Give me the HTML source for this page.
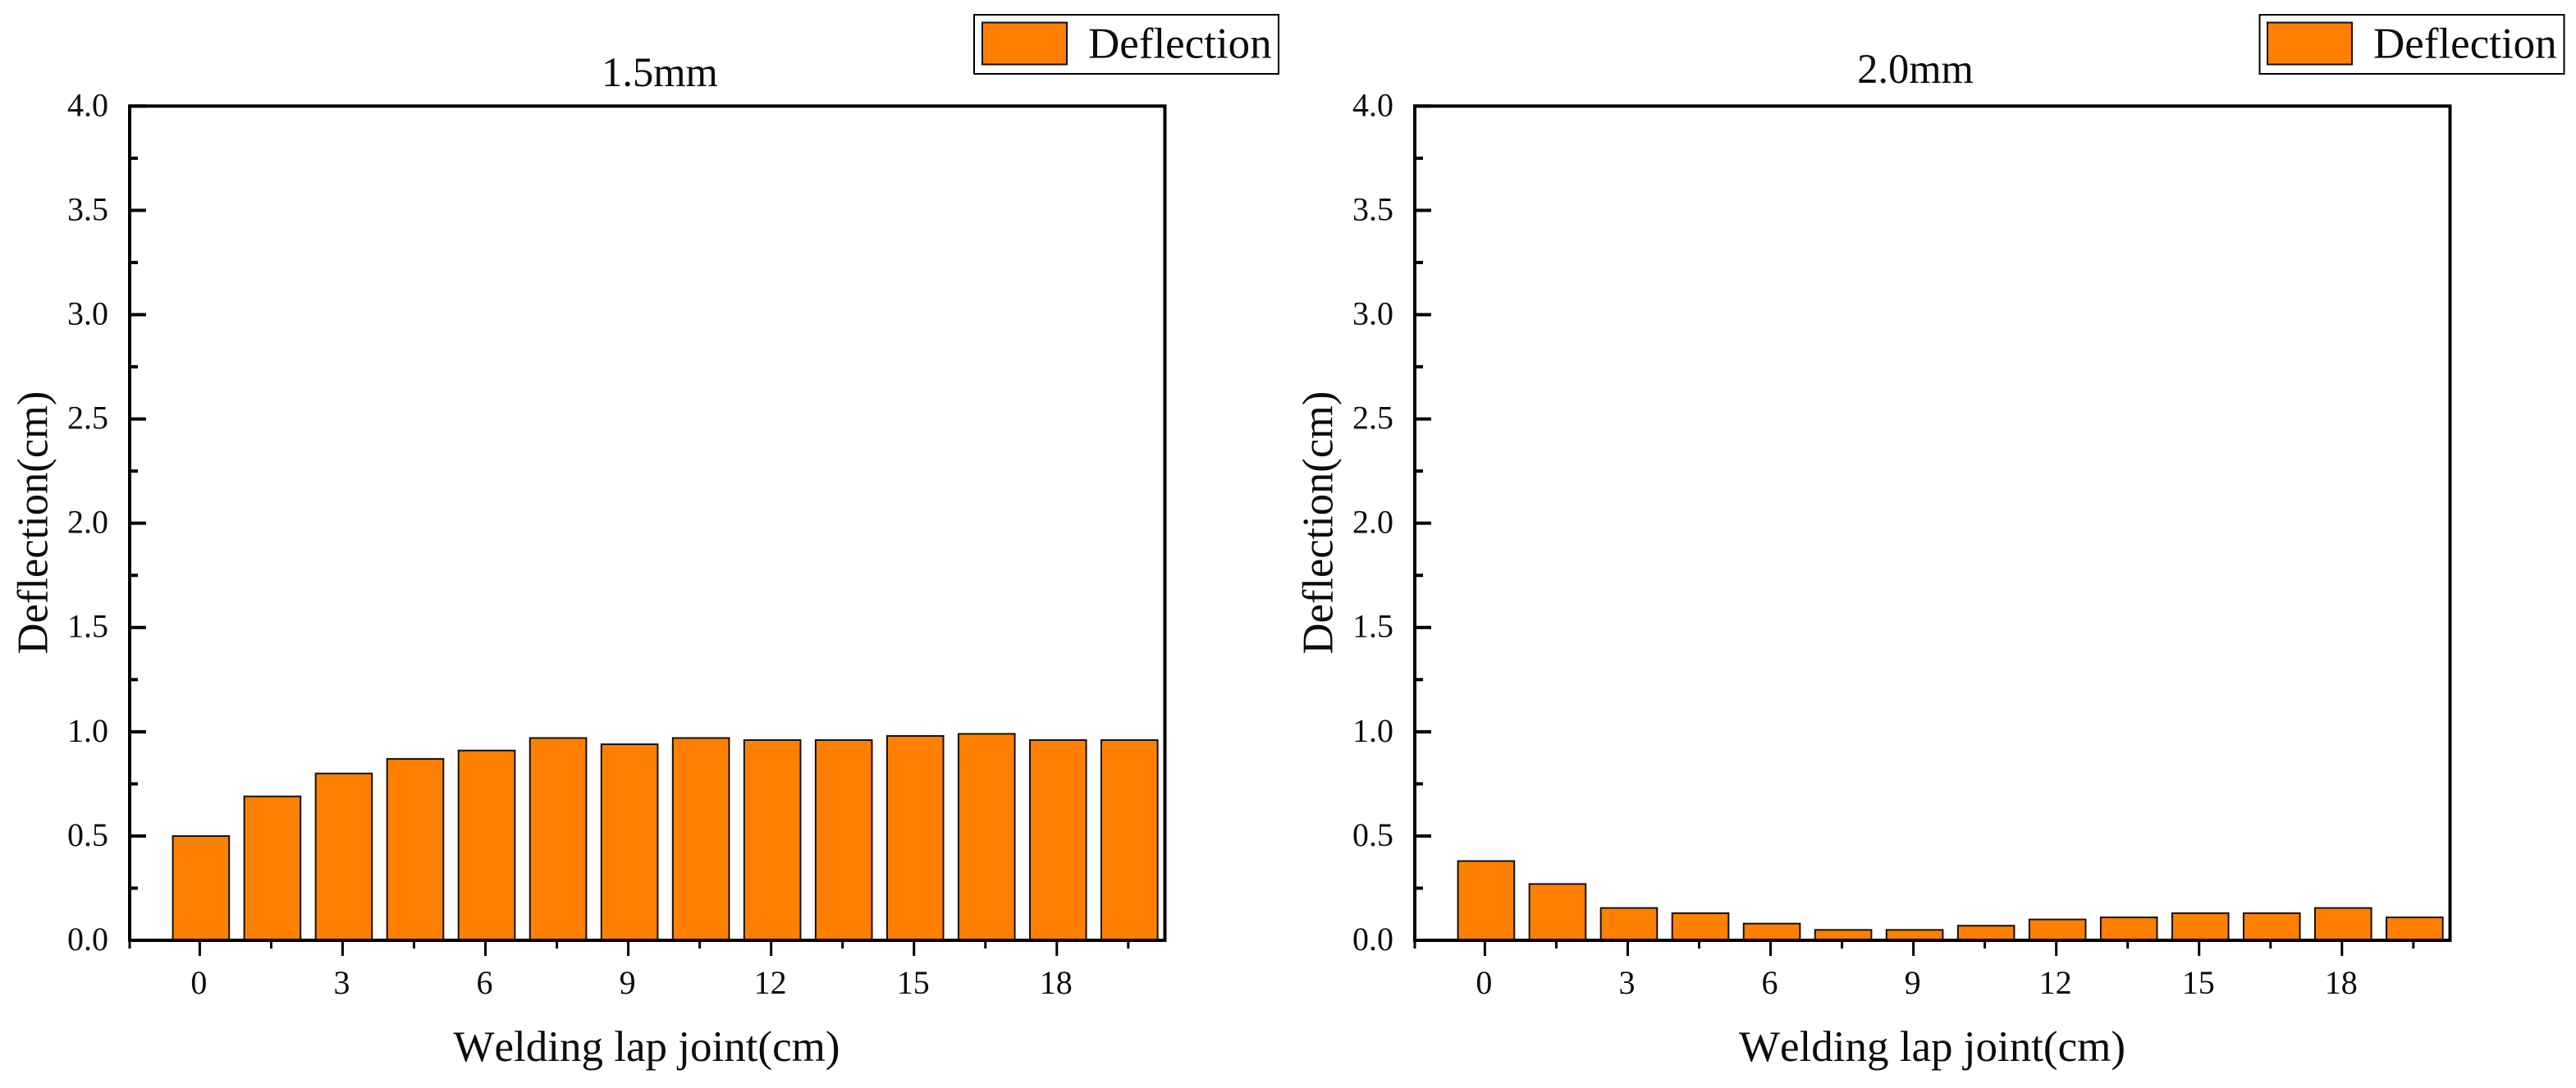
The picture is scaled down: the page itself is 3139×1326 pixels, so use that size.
<!DOCTYPE html>
<html lang="en">
<head>
<meta charset="utf-8">
<title>Deflection along welding lap joint</title>
<style>
  html, body { margin: 0; padding: 0; background: #fff; }
  svg { display: block; }
  text { font-family: "Liberation Serif", "Times New Roman", serif; fill: #0c0c0c; font-kerning: none; font-variant-ligatures: common-ligatures; }
</style>
</head>
<body>
<svg id="chart" xmlns="http://www.w3.org/2000/svg" width="3139" height="1326" viewBox="0 0 3139 1326">
  <rect x="0" y="0" width="3139" height="1326" fill="#fff"/>

  <g id="panel-a">
    <text x="804" y="105" font-size="50.5" text-anchor="middle">1.5mm</text>
    <text x="788" y="1293" font-size="53" text-anchor="middle">Welding lap joint(cm)</text>
    <text transform="translate(57.5,637) rotate(-90)" font-size="52.5" text-anchor="middle">Deflection(cm)</text>
    <g>
      <rect x="1187" y="18" width="371" height="72" fill="#fff" stroke="#000" stroke-width="2"/>
      <rect x="1197" y="27.5" width="103" height="51" fill="#ff8000" stroke="#111" stroke-width="2"/>
      <text x="1326" y="70.5" font-size="53">Deflection</text>
    </g>
  </g>

  <g id="panel-b">
    <text x="2334" y="101" font-size="50.5" text-anchor="middle">2.0mm</text>
    <text x="2354.5" y="1293" font-size="53" text-anchor="middle">Welding lap joint(cm)</text>
    <text transform="translate(1623.5,637) rotate(-90)" font-size="52.5" text-anchor="middle">Deflection(cm)</text>
    <g>
      <rect x="2753.5" y="18" width="371" height="72" fill="#fff" stroke="#000" stroke-width="2"/>
      <rect x="2763" y="27.5" width="103" height="51" fill="#ff8000" stroke="#111" stroke-width="2"/>
      <text x="2892" y="70.5" font-size="53">Deflection</text>
    </g>
  </g>
</svg>

<script>
// Chart data
const joints = [0, 1.5, 3, 4.5, 6, 7.5, 9, 10.5, 12, 13.5, 15, 16.5, 18, 19.5];
const deflection15 = [0.50, 0.69, 0.80, 0.87, 0.91, 0.97, 0.94, 0.97, 0.96, 0.96, 0.98, 0.99, 0.96, 0.96];
const deflection20 = [0.38, 0.27, 0.155, 0.13, 0.08, 0.05, 0.05, 0.07, 0.10, 0.11, 0.13, 0.13, 0.155, 0.11];
const xTickLabels = ['0', '3', '6', '9', '12', '15', '18'];
const xMinorTicks = [1.5, 4.5, 7.5, 10.5, 13.5, 16.5, 19.5];
const yTickLabels = ['0.0', '0.5', '1.0', '1.5', '2.0', '2.5', '3.0', '3.5', '4.0'];
const yMinorTicks = [0.25, 0.75, 1.25, 1.75, 2.25, 2.75, 3.25, 3.75];
const xDomain = [-1.472, 20.27];
const yDomain = [0, 4];

const SVG_NS = 'http://www.w3.org/2000/svg';

function line(parent, x1, y1, x2, y2, width) {
  const el = document.createElementNS(SVG_NS, 'line');
  el.setAttribute('x1', x1);
  el.setAttribute('y1', y1);
  el.setAttribute('x2', x2);
  el.setAttribute('y2', y2);
  el.setAttribute('stroke', '#000');
  el.setAttribute('stroke-width', width);
  parent.appendChild(el);
  return el;
}

function label(parent, x, y, anchor, content) {
  const el = document.createElementNS(SVG_NS, 'text');
  el.setAttribute('x', x);
  el.setAttribute('y', y);
  el.setAttribute('font-size', 40);
  el.setAttribute('text-anchor', anchor);
  el.textContent = content;
  parent.appendChild(el);
  return el;
}

function drawPanel(groupId, suffix, values, left, right, top, bottom) {
  const group = document.getElementById(groupId);
  const xScale = v => left + (v - xDomain[0]) / (xDomain[1] - xDomain[0]) * (right - left);
  const yScale = v => bottom - (v - yDomain[0]) / (yDomain[1] - yDomain[0]) * (bottom - top);
  const step = xScale(joints[1]) - xScale(joints[0]);
  const barWidth = step * 0.8;

  values.forEach((value, i) => {
    const bar = document.createElementNS(SVG_NS, 'rect');
    
    
    bar.setAttribute('x', xScale(joints[i]) - barWidth / 2 + 2);
    bar.setAttribute('y', yScale(value));
    bar.setAttribute('width', barWidth - 1);
    bar.setAttribute('height', bottom - yScale(value));
    bar.setAttribute('fill', '#ff8000');
    bar.setAttribute('stroke', '#111');
    bar.setAttribute('stroke-width', 2);
    group.appendChild(bar);
  });

  const frame = document.createElementNS(SVG_NS, 'rect');
  
  
  frame.setAttribute('x', left);
  frame.setAttribute('y', top);
  frame.setAttribute('width', right - left);
  frame.setAttribute('height', bottom - top);
  frame.setAttribute('fill', 'none');
  frame.setAttribute('stroke', '#000');
  frame.setAttribute('stroke-width', 4);
  group.appendChild(frame);

  const corner = line(group, left, bottom, left, bottom + 10, 3);
  
  

  xTickLabels.forEach(text => {
    const value = Number(text);
    const tick = line(group, xScale(value), bottom, xScale(value), bottom + 19, 3);
    
    
    const tickLabel = label(group, xScale(value) - 1, 1211, 'middle', text);
    
    
  });

  xMinorTicks.forEach(value => {
    const tick = line(group, xScale(value), bottom, xScale(value), bottom + 10, 3);
    
    
  });

  yTickLabels.forEach(text => {
    const value = Number(text);
    const tick = line(group, left, yScale(value), left + 20, yScale(value), 4);
    
    
    const tickLabel = label(group, left - 26, yScale(value) + 12, 'end', text);
    
    
  });

  yMinorTicks.forEach(value => {
    const tick = line(group, left, yScale(value), left + 10, yScale(value), 4);
    
    
  });
}

drawPanel('panel-a', '1-5mm', deflection15, 158, 1419.5, 129.3, 1146);
drawPanel('panel-b', '2-0mm', deflection20, 1724, 2985.5, 129.3, 1146);
</script>
</body>
</html>
